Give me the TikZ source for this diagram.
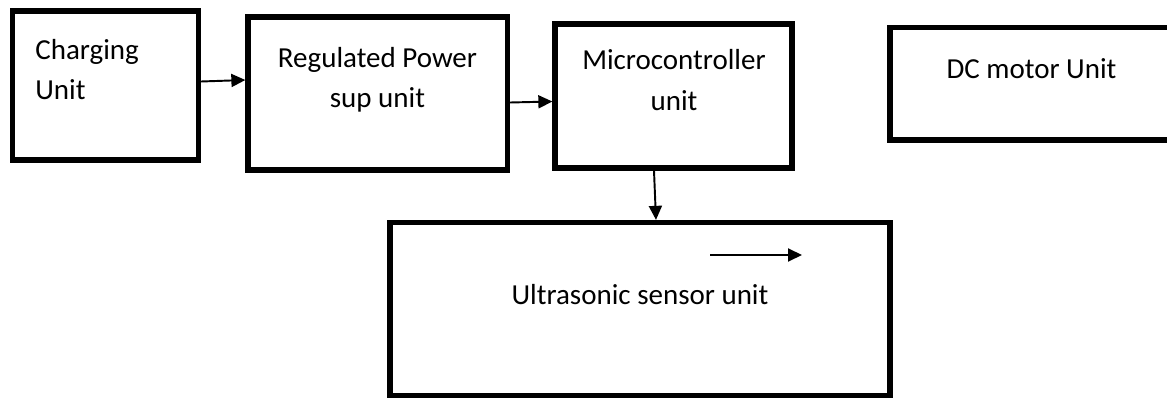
\documentclass[tikz,border=0pt]{standalone}
\usepackage{fontspec}
\setmainfont{Carlito}
\usetikzlibrary{arrows.meta}

\tikzset{
  unitbox/.style={draw=black, line width=3pt, fill=white, inner sep=0pt},
  unittext/.style={font=\fontsize{16.5}{22.8}\selectfont, inner sep=0pt},
  conn/.style={line width=1.1pt, -{Triangle[length=2.8mm,width=2.6mm]}}
}

\begin{document}
\begin{tikzpicture}
  \useasboundingbox (0,0) rectangle (23.34,7.96);

  % blocks
  \node[unitbox, minimum width=3.72cm, minimum height=2.98cm] (charge) at (2.11,6.25) {};
  \node[unitbox, minimum width=5.19cm, minimum height=3.06cm] (regul) at (7.555,6.09) {};
  \node[unitbox, minimum width=4.74cm, minimum height=2.88cm] (micro) at (13.47,6.04) {};
  \node[unitbox, minimum width=5.66cm, minimum height=2.25cm] (dcmot) at (20.63,6.285) {};
  \node[unitbox, minimum width=10.0cm, minimum height=3.46cm] (ultra) at (12.80,1.78) {};

  % labels (base = last line)
  \node[unittext, anchor=base west, align=left] (chargetxt) at (0.70,5.96) {Charging\\Unit};
  \node[unittext, anchor=base, align=center] (regultxt) at (7.55,5.80) {Regulated Power\\sup unit};
  \node[unittext, anchor=base, align=center] (microtxt) at (13.48,5.76) {Microcontroller\\unit};
  \node[unittext, anchor=base] (dcmottxt) at (20.63,6.40) {DC motor Unit};
  \node[unittext, anchor=base] (ultratxt) at (12.80,1.88) {Ultrasonic sensor unit};

  % connectors
  \draw[conn] ([yshift=0.8mm]charge.east) -- ([yshift=2.7mm]regul.west);
  \draw[conn] ([yshift=-1.8mm]regul.east) -- ([yshift=-1.1mm]micro.west);
  \draw[conn] ([xshift=-3.9mm]micro.south) -- ([xshift=3.2mm]ultra.north);

  \coordinate (ftail) at (14.20,2.86);
  \coordinate (fhead) at (16.04,2.86);
  \draw[conn] (ftail) -- (fhead);
\end{tikzpicture}
\end{document}
